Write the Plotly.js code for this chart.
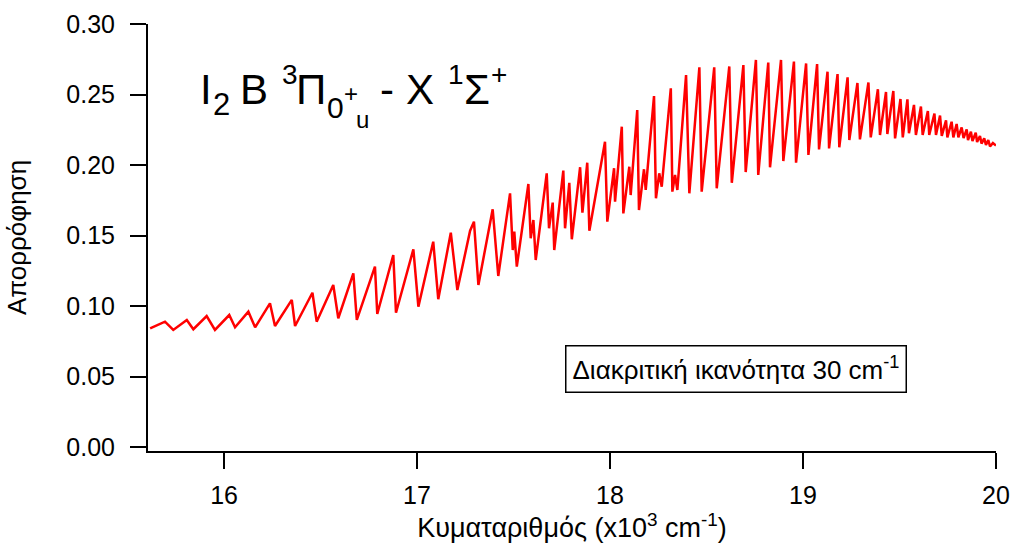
<!DOCTYPE html>
<html>
<head>
<meta charset="utf-8">
<script src="https://cdn.plot.ly/plotly-3.0.1.min.js"></script>
<style>html,body{margin:0;padding:0;background:#fff;}#chart{width:1010px;height:547px;}</style>
</head>
<body>
<div id="chart"></div>
<script>
// Wavenumber (x10^3 cm^-1) of the read-off vertices of the spectrum
const wavenumber = [
15.617,15.694,15.737,15.807,15.841,15.910,15.953,16.027,16.057,16.126,
16.161,16.238,16.264,16.351,16.368,16.458,16.480,16.566,16.592,16.670,
16.688,16.782,16.794,16.877,16.891,16.964,16.981,17.007,17.084,17.110,
17.175,17.209,17.275,17.295,17.318,17.392,17.421,17.482,17.496,17.504,
17.517,17.577,17.589,17.603,17.615,17.672,17.684,17.703,17.711,17.758,
17.767,17.789,17.802,17.845,17.857,17.882,17.893,17.974,17.986,18.021,
18.026,18.061,18.069,18.100,18.107,18.141,18.150,18.176,18.185,18.228,
18.238,18.255,18.268,18.315,18.323,18.337,18.349,18.394,18.411,18.463,
18.475,18.540,18.553,18.618,18.631,18.691,18.703,18.756,18.768,18.820,
18.829,18.886,18.898,18.953,18.964,19.016,19.028,19.073,19.083,19.127,
19.135,19.179,19.188,19.231,19.240,19.282,19.295,19.339,19.351,19.388,
19.399,19.430,19.437,19.468,19.477,19.505,19.517,19.541,19.549,19.575,
19.585,19.611,19.620,19.647,19.654,19.681,19.689,19.710,19.719,19.741,
19.748,19.770,19.779,19.796,19.805,19.822,19.832,19.848,19.855,19.870,
19.878,19.895,19.902,19.917,19.925,19.939,19.948,19.960,19.969,19.984,
20.000
];
// Absorbance at those vertices
const absorbance = [
0.0842,0.0889,0.0830,0.0901,0.0835,0.0929,0.0830,0.0936,0.0849,0.0960,
0.0849,0.1019,0.0858,0.1043,0.0858,0.1094,0.0889,0.1149,0.0913,0.1232,
0.0901,0.1279,0.0943,0.1362,0.0952,0.1326,0.1402,0.0995,0.1456,0.1048,
0.1520,0.1113,0.1534,0.1598,0.1149,0.1686,0.1213,0.1799,0.1397,0.1527,
0.1279,0.1865,0.1480,0.1610,0.1326,0.1941,0.1551,0.1733,0.1397,0.1960,
0.1551,0.1874,0.1473,0.1984,0.1662,0.2016,0.1534,0.2165,0.1598,0.1977,
0.1740,0.2272,0.1657,0.1988,0.1787,0.2390,0.1681,0.1970,0.1823,0.2489,
0.1764,0.1941,0.1846,0.2544,0.1811,0.1929,0.1823,0.2638,0.1799,0.2693,
0.1811,0.2693,0.1835,0.2699,0.1874,0.2709,0.1950,0.2745,0.1929,0.2727,
0.1984,0.2745,0.2028,0.2733,0.2016,0.2720,0.2071,0.2716,0.2111,0.2662,
0.2118,0.2645,0.2126,0.2622,0.2177,0.2582,0.2182,0.2585,0.2196,0.2537,
0.2213,0.2518,0.2220,0.2525,0.2189,0.2468,0.2196,0.2465,0.2225,0.2426,
0.2213,0.2415,0.2213,0.2383,0.2213,0.2365,0.2213,0.2351,0.2206,0.2317,
0.2196,0.2307,0.2196,0.2291,0.2196,0.2266,0.2191,0.2253,0.2177,0.2236,
0.2170,0.2229,0.2163,0.2206,0.2152,0.2189,0.2142,0.2177,0.2131,0.2156,
0.2138
];
const xTickVals = [16, 17, 18, 19, 20];
const yTickVals = [0.00, 0.05, 0.10, 0.15, 0.20, 0.25, 0.30];

const FONT = "Arial, 'Liberation Sans', sans-serif";
const W = 1010, H = 547, L = 148, R = 14, T = 24, B = 96;
const px = x => (x - L) / (W - L - R);
const py = y => (H - B - y) / (H - T - B);

// Title pieces: [text, size, centre-x px, centre-y px]
const titleParts = [
  ["I", 42, 205.5, 90],
  ["2", 31, 221, 104],
  ["B", 42, 254, 90],
  ["3", 28, 289.5, 74],
  ["Π", 42, 310.5, 90],
  ["0", 30, 335.5, 107.5],
  ["+", 24, 350.5, 94],
  ["u", 24, 362.5, 119],
  ["-", 42, 386.5, 90],
  ["X", 42, 420, 90],
  ["1", 28, 456, 74],
  ["Σ", 42, 476.5, 90],
  ["+", 28, 498.5, 74]
];

const annotations = titleParts.map(p => ({
  text: p[0], xref: 'paper', yref: 'paper', x: px(p[2]), y: py(p[3]),
  xanchor: 'center', yanchor: 'middle', showarrow: false,
  font: {family: FONT, size: p[1], color: '#000'}
}));

annotations.push({
  text: 'Διακριτική ικανότητα 30 cm<sup>-1</sup>',
  xref: 'paper', yref: 'paper', x: px(735.5), y: py(368.5),
  xanchor: 'center', yanchor: 'middle', showarrow: false,
  font: {family: FONT, size: 26, color: '#000'},
  bordercolor: '#000', borderwidth: 1.5, borderpad: 6, bgcolor: '#fff'
});

const data = [{
  x: wavenumber, y: absorbance, type: 'scatter', mode: 'lines',
  line: {color: '#ff0000', width: 2.5}, hoverinfo: 'x+y'
}];

const layout = {
  width: W, height: H,
  margin: {l: L, r: R, t: T, b: B, pad: 0},
  paper_bgcolor: '#fff', plot_bgcolor: '#fff',
  showlegend: false,
  font: {family: FONT, size: 25, color: '#000'},
  xaxis: {
    range: [15.606, 20.0], tickvals: xTickVals, ticktext: xTickVals.map(String),
    showline: true, linecolor: '#000', linewidth: 2, mirror: false,
    ticks: 'outside', ticklen: 16, tickwidth: 2, tickcolor: '#000',
    ticklabelstandoff: 5,
    showgrid: false, zeroline: false, automargin: false,
    tickfont: {family: FONT, size: 25, color: '#000'},
    title: {text: 'Κυματαριθμός (x10<sup>3</sup> cm<sup>-1</sup>)', standoff: 4,
            font: {family: FONT, size: 27, color: '#000'}}
  },
  yaxis: {
    range: [-0.00284, 0.30], tickvals: yTickVals, ticktext: yTickVals.map(v => v.toFixed(2)),
    showline: true, linecolor: '#000', linewidth: 2, mirror: false,
    ticks: 'outside', ticklen: 16, tickwidth: 2, tickcolor: '#000',
    ticklabelstandoff: 10,
    showgrid: false, zeroline: false, automargin: false,
    tickfont: {family: FONT, size: 25, color: '#000'},
    title: {text: 'Απορρόφηση', standoff: 32,
            font: {family: FONT, size: 26, color: '#000'}}
  },
  annotations: annotations
};

Plotly.newPlot('chart', data, layout, {displayModeBar: false, staticPlot: true});
</script>
</body>
</html>
